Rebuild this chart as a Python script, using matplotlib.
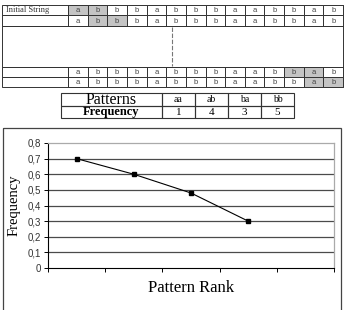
import matplotlib
matplotlib.use("Agg")
import matplotlib.pyplot as plt
from matplotlib.patches import Rectangle

# --- data ---
initial_string = list("abbbabbbaabbab")
row_labels = ["Initial String", "", "", ""]
# which pair of cells is highlighted in each of the four shown rows
highlight_pairs = [0, 1, 11, 12]
patterns = ["aa", "ab", "ba", "bb"]
pattern_counts = [1, 4, 3, 5]
rank = [1, 2, 3, 4]
frequency = [0.70, 0.60, 0.48, 0.30]

W, H = 346, 310
fig = plt.figure(figsize=(W / 100, H / 100), dpi=100)
fig.patch.set_facecolor("white")

# pixel-space canvas for the tables
canvas = fig.add_axes([0, 0, 1, 1])
canvas.set_xlim(0, W)
canvas.set_ylim(H, 0)
canvas.axis("off")

LINE = "#333333"
SHADE = "#c4c4c4"

# --- top string table ---
tx0, tx1 = 2, 343
label_w = 66
cell_w = (tx1 - tx0 - label_w) / len(initial_string)
row_tops = [4.7, 15.3, 66.7, 76.7]
row_h = 10.6

for r, top in enumerate(row_tops):
    canvas.add_patch(Rectangle((tx0, top), tx1 - tx0, row_h, fill=False,
                               ec=LINE, lw=0.7))
    canvas.plot([tx0 + label_w] * 2, [top, top + row_h], color=LINE, lw=0.7)
    if row_labels[r]:
        canvas.text(tx0 + 4, top + row_h / 2 + 0.5, row_labels[r],
                    family="Liberation Serif", fontsize=6, va="center",
                    color="#333333")
    for c, ch in enumerate(initial_string):
        x = tx0 + label_w + c * cell_w
        shaded = c in (highlight_pairs[r], highlight_pairs[r] + 1)
        canvas.add_patch(Rectangle((x, top), cell_w, row_h,
                                   fc=SHADE if shaded else "white",
                                   ec=LINE, lw=0.7))
        canvas.text(x + cell_w / 2, top + row_h / 2 + 0.5, ch,
                    family="Liberation Sans", fontsize=5.5,
                    ha="center", va="center", color="#444444")

# blank middle block with dashed divider
canvas.add_patch(Rectangle((tx0, 25.9), tx1 - tx0, 40.8, fill=False,
                           ec=LINE, lw=0.7))
canvas.plot([172, 172], [27, 66], color="#777777", lw=0.8,
            linestyle=(0, (4, 1.5)))

# --- pattern table ---
px0, plabel_w, pcell_w = 61, 101, 33
ptops = [93, 105.5]
ph = 12.5
for r, top in enumerate(ptops):
    canvas.add_patch(Rectangle((px0, top), plabel_w, ph, fill=False,
                               ec=LINE, lw=0.8))
    for c in range(len(patterns)):
        canvas.add_patch(Rectangle((px0 + plabel_w + c * pcell_w, top),
                                   pcell_w, ph, fill=False, ec=LINE, lw=0.8))
canvas.text(px0 + plabel_w / 2, ptops[0] + ph - 2, "Patterns",
            family="Liberation Serif", fontsize=11.5, ha="center",
            va="baseline")
canvas.text(px0 + plabel_w / 2, ptops[1] + ph / 2 + 0.5, "Frequency",
            family="Liberation Serif", fontsize=9, fontweight="bold",
            ha="center", va="center")
for c, (p, n) in enumerate(zip(patterns, pattern_counts)):
    cx = px0 + plabel_w + (c + 0.5) * pcell_w
    canvas.text(cx, ptops[0] + ph / 2 + 0.5, p, family="Liberation Serif",
                fontsize=7, ha="center", va="center")
    canvas.text(cx, ptops[1] + ph / 2 + 0.5, str(n), family="Liberation Serif",
                fontsize=8, ha="center", va="center")

# chart outer box
canvas.add_patch(Rectangle((3, 128), 338, 190, fill=False, ec="#444444",
                           lw=0.9))

# --- line chart ---
l, r_, t, b = 48, 334, 143, 268
ax = fig.add_axes([l / W, 1 - b / H, (r_ - l) / W, (b - t) / H])
ax.set_facecolor("white")
ax.set_xlim(0, 5)
ax.set_ylim(0, 0.8)
yticks = [i / 10 for i in range(9)]
for y in yticks[1:-1]:
    ax.axhline(y, color="#4a4a4a", lw=0.9, zorder=1)
ax.plot([x - 0.5 for x in rank], frequency, color="black", lw=0.8,
        marker="s", ms=3, mfc="black", mec="black", zorder=3)

for side in ("top", "right"):
    ax.spines[side].set_color("#aaaaaa")
    ax.spines[side].set_linewidth(0.9)
for side in ("left", "bottom"):
    ax.spines[side].set_color("black")
    ax.spines[side].set_linewidth(0.8)

ax.set_yticks(yticks)
ax.set_yticklabels([("%.1f" % y).replace(".", ",") if y else "0"
                    for y in yticks])
ax.set_xticks(range(6))
ax.set_xticklabels([])
ax.tick_params(axis="both", direction="out", length=3, width=0.7,
               color="black")
ax.tick_params(axis="y", labelsize=7, labelcolor="#333333", pad=2)
for lab in ax.get_yticklabels():
    lab.set_family("Liberation Sans")

ax.set_ylabel("Frequency", family="Liberation Serif", fontsize=10.5,
              labelpad=5)
ax.set_xlabel("Pattern Rank", family="Liberation Serif", fontsize=12,
              labelpad=2)

fig.savefig("out.png", dpi=100, facecolor="white")
